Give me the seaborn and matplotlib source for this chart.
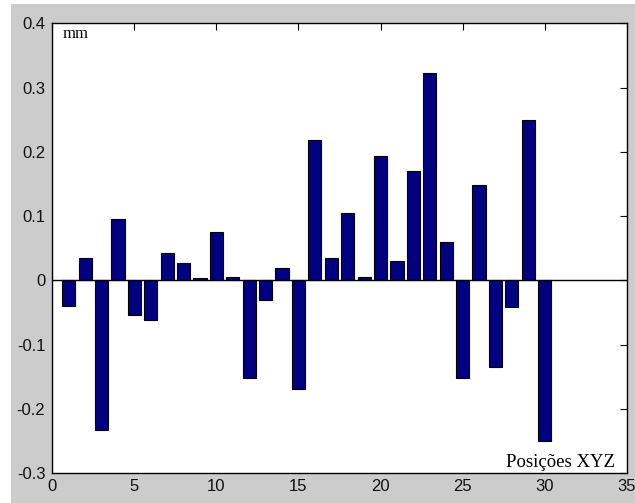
import matplotlib
matplotlib.use("Agg")
import matplotlib.pyplot as plt
import matplotlib.patches as mpatches
import seaborn as sns
import pandas as pd
import numpy as np

positions = list(range(1, 31))
values = [-0.040, 0.035, -0.233, 0.096, -0.054, -0.062, 0.043, 0.027, 0.004, 0.076,
          0.006, -0.151, -0.030, 0.019, -0.169, 0.219, 0.035, 0.105, 0.006, 0.193,
          0.031, 0.170, 0.322, 0.060, -0.152, 0.148, -0.135, -0.042, 0.250, -0.249]
xticks = [0, 5, 10, 15, 20, 25, 30, 35]
yticks = [-0.3, -0.2, -0.1, 0, 0.1, 0.2, 0.3, 0.4]
ytick_labels = ["-0.3", "-0.2", "-0.1", "0", "0.1", "0.2", "0.3", "0.4"]
unit_label = "mm"
x_label = "Posições XYZ"

sns.set_style("white")
plt.rcParams["font.family"] = ["Liberation Sans", "DejaVu Sans"]
plt.rcParams["axes.unicode_minus"] = False

df = pd.DataFrame({"pos": positions, "val": values})

fig = plt.figure(figsize=(6.35, 5.03), dpi=100, facecolor="white")
fig.patches.append(mpatches.Rectangle((11 / 635, 0), 1 - 11 / 635, 1 - 4 / 503,
                                      transform=fig.transFigure, facecolor="#cccccc",
                                      edgecolor="none", zorder=-10))
ax = fig.add_axes([52.3 / 635, 1 - 473.3 / 503, (626.7 - 52.3) / 635, (473.3 - 23.3) / 503])
ax.set_facecolor("white")

sns.barplot(data=df, x="pos", y="val", native_scale=True, color="#000080",
            saturation=1, width=0.8, edgecolor="black", linewidth=0.8, ax=ax, zorder=2)

ax.axhline(0, color="black", lw=1.0, zorder=3)

ax.set_xlim(0, 35)
ax.set_ylim(-0.3, 0.4)
ax.set_xticks(xticks)
ax.set_xticklabels([str(t) for t in xticks])
ax.set_yticks(yticks)
ax.set_yticklabels(ytick_labels)
ax.set_xlabel("")
ax.set_ylabel("")

ax.tick_params(axis="both", direction="in", length=5, width=0.8, color="black",
               top=True, right=True, labelsize=12, labelcolor="#111111")
ax.tick_params(axis="x", pad=4)
ax.tick_params(axis="y", pad=5)
for s in ax.spines.values():
    s.set_visible(True)
    s.set_color("black")
    s.set_linewidth(1.0)

ax.text(0.65, 0.3767, unit_label, family=["Liberation Serif", "DejaVu Serif"],
        fontsize=12, ha="left", va="baseline", color="black")
ax.text(34.29, -0.2897, x_label, family=["Liberation Serif", "DejaVu Serif"],
        fontsize=13.5, ha="right", va="baseline", color="black")

fig.savefig("out.png", dpi=100, facecolor=fig.get_facecolor())
